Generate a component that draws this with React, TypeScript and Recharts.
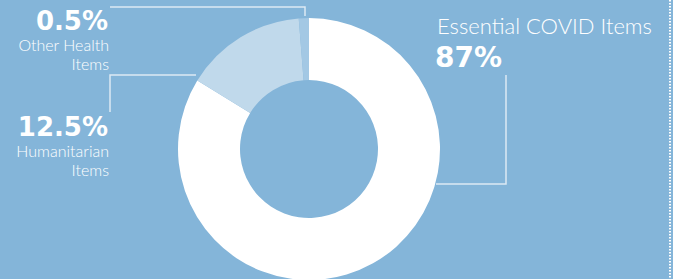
import React from 'react';
import { PieChart, Pie, Cell } from 'recharts';

const categories = ['Essential COVID Items', 'Humanitarian Items', 'Other Health Items'];
const sliceShares = [83.75, 15.0, 1.25];
const percentLabels = ['87%', '12.5%', '0.5%'];
const sliceColors = ['#FFFFFF', '#C0D9EB', '#A3C8E4'];

const data = categories.map((name, i) => ({ name, value: sliceShares[i] }));

const BG = '#84B5D9';
const LINE = '#DCE9F4';
const boldFont = '"DejaVu Sans", sans-serif';
const lightFont = 'Lato, sans-serif';

export default function App() {
  return (
    <div style={{ position: 'absolute', left: 0, top: 0, width: 673, height: 279, background: BG, overflow: 'hidden' }}>
      <PieChart width={673} height={279} margin={{ top: 0, right: 0, bottom: 0, left: 0 }} style={{ position: 'absolute', left: 0, top: 0 }}>
        <Pie
          data={data}
          dataKey="value"
          nameKey="name"
          cx={309}
          cy={149}
          innerRadius={69}
          outerRadius={131}
          startAngle={90}
          endAngle={-270}
          stroke="none"
          isAnimationActive={false}
        >
          {data.map((d, i) => (
            <Cell key={d.name} fill={sliceColors[i]} />
          ))}
        </Pie>
      </PieChart>
      <svg width={673} height={279} style={{ position: 'absolute', left: 0, top: 0, pointerEvents: 'none' }}>
        <polyline points="110,7 305,7 305,16" fill="none" stroke={LINE} strokeWidth={1.5} />
        <polyline points="110,112 110,75 196,75" fill="none" stroke={LINE} strokeWidth={1.5} />
        <polyline points="506,75 506,184 436,184" fill="none" stroke={LINE} strokeWidth={1.5} />
        <line x1={670} y1={0} x2={670} y2={279} stroke="#FFFFFF" strokeWidth={2} strokeDasharray="1.5 1.5" />

        <text x={108} y={30} textAnchor="end" fill="#FFFFFF" fontFamily={boldFont} fontWeight={700} fontSize={26}>{percentLabels[2]}</text>
        <text x={109} y={51} textAnchor="end" fill="#FFFFFF" fontFamily={lightFont} fontWeight={300} fontSize={16}>Other Health</text>
        <text x={109} y={70} textAnchor="end" fill="#FFFFFF" fontFamily={lightFont} fontWeight={300} fontSize={16}>Items</text>

        <text x={108} y={136} textAnchor="end" fill="#FFFFFF" fontFamily={boldFont} fontWeight={700} fontSize={26}>{percentLabels[1]}</text>
        <text x={109} y={157} textAnchor="end" fill="#FFFFFF" fontFamily={lightFont} fontWeight={300} fontSize={16}>Humanitarian</text>
        <text x={109} y={176} textAnchor="end" fill="#FFFFFF" fontFamily={lightFont} fontWeight={300} fontSize={16}>Items</text>

        <text x={437} y={34} textAnchor="start" fill="#FFFFFF" fontFamily={lightFont} fontWeight={300} fontSize={22}>Essential COVID Items</text>
        <text x={435} y={67} textAnchor="start" fill="#FFFFFF" fontFamily={boldFont} fontWeight={700} fontSize={28}>{percentLabels[0]}</text>
      </svg>
    </div>
  );
}
